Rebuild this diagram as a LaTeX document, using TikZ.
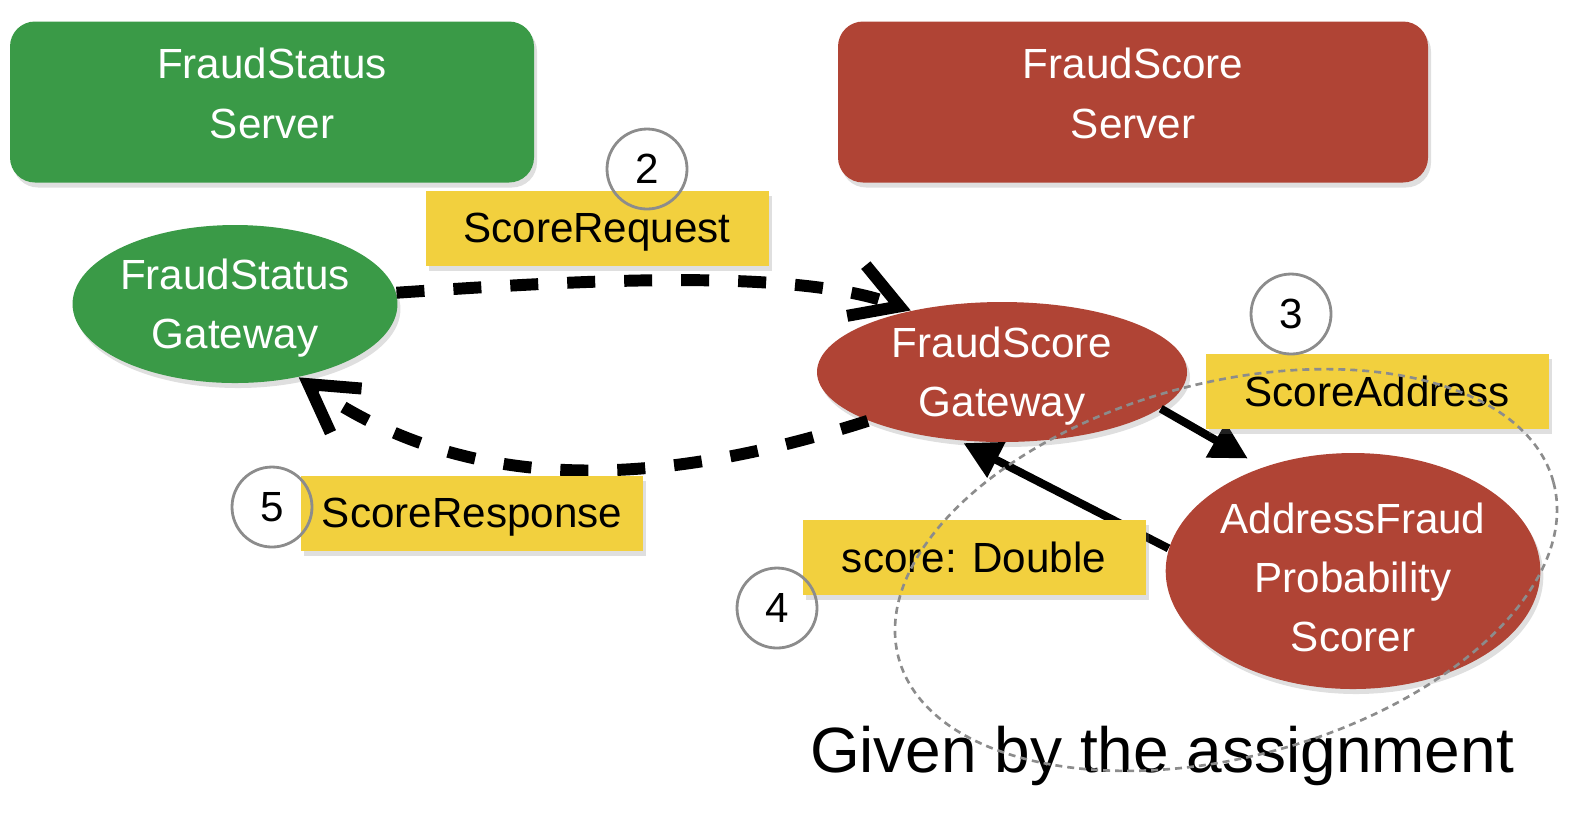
\documentclass[tikz,border=0pt]{standalone}
\usepackage{fontspec}
\setmainfont{Liberation Sans}
\usetikzlibrary{shapes.geometric,arrows.meta,shadows}
\definecolor{fsgreen}{HTML}{3A9A47}
\definecolor{fsred}{HTML}{B04435}
\definecolor{msgyellow}{HTML}{F2D03E}
\definecolor{stepgray}{HTML}{8C8C8C}

\begin{document}
\begin{tikzpicture}[x=0.1mm,y=-0.1mm,
every node/.style={align=center,
font=\fontsize{12}{16.8}\selectfont
},
softshadow/.style={%
drop shadow={shadow xshift=0.3mm,shadow yshift=-0.5mm,opacity=0.25}
},
server/.style={%
rounded corners=2.5mm,
minimum height=16.1mm,
text depth=5pt,
text=white,
softshadow
},
gateway/.style={%
ellipse,
inner sep=0pt,
text depth=0pt,
text=white,
softshadow
},
msg/.style={%
fill=msgyellow,
minimum width=34.3mm,
minimum height=7.5mm,
text depth=0pt,
softshadow
},
stepnum/.style={%
circle,
draw=stepgray,
line width=0.8pt,
minimum size=8mm,
inner sep=0pt
},
call/.style={%
line width=3.4pt,
dash pattern=on 2.8mm off 2.9mm,
-{Straight Barb[length=4.6mm,width=5.4mm]}
},
reply/.style={%
line width=2.3pt,
-{Triangle[length=3.7mm,width=3.8mm]}
}]
\useasboundingbox(0,0)rectangle(1590,812);
\node[server,fill=fsgreen,minimum width=52.4mm]at(272,102)(fsServer){FraudStatus\\Server};
\node[server,fill=fsred,minimum width=59mm]at(1133,102)(scServer){FraudScore\\Server};
\node[gateway,fill=fsgreen,minimum width=32mm,minimum height=15.8mm]at(235,304)(fsGateway){FraudStatus\\Gateway};
\node[gateway,fill=fsred,minimum width=37mm,minimum height=14mm]at(1002,372)(scGateway){FraudScore\\Gateway};
\node[gateway,fill=fsred,minimum width=37.4mm,minimum height=23.6mm]at(1353,571)(scorer){\rule{0pt}{12.4pt}AddressFraud\\Probability\\Scorer};
\draw[call](fsGateway.4)..controls(560,282)and(790,266)..(scGateway.146);
\draw[call](scGateway.200)..controls(679,481)and(479,504)..(fsGateway.311);
\draw[reply,shorten >=1.7mm](scGateway.347)--(scorer.131);
\draw[reply,shorten >=0.5mm](scorer.173)--(scGateway.238);
\node[msg]at(597,228)(reqMsg){ScoreRequest};
\node[msg]at(1377,391)(addrMsg){ScoreAddress};
\node[msg]at(974,557)(scoreMsg){score: Double};
\node[msg,minimum width=34.2mm]at(472,513)(respMsg){ScoreResponse};
\node[stepnum]at(647,169)(stepTwo){2};
\node[stepnum]at(1291,314)(stepThree){3};
\node[stepnum]at(777,608)(stepFour){4};
\node[stepnum]at(272,507)(stepFive){5};
\node[font=\fontsize{18.2}{22}\selectfont]at(1162,756)(given){Given by the assignment};
\coordinate(givenArea)at(1226,570);
\draw[stepgray,line width=0.75pt,dash pattern=on 0.7mm off 0.5mm,rotate around={15:(givenArea)}](givenArea)ellipse[x radius=339,y radius=187];
\end{tikzpicture}
\end{document}
